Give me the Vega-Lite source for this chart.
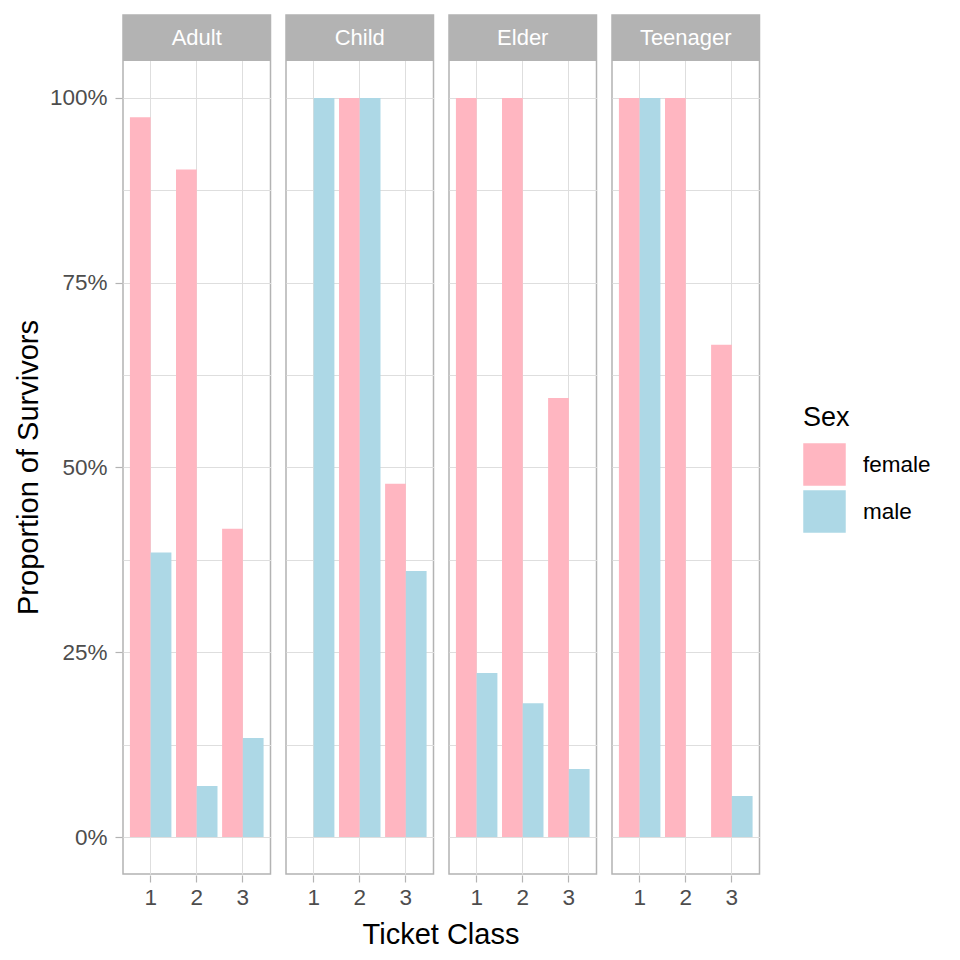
{
  "$schema": "https://vega.github.io/schema/vega-lite/v6.json",
  "padding": {"left": 14, "top": 14, "right": 5, "bottom": 5},
  "background": "white",
  "data": {
    "values": [
      {"Age": "Adult", "Class": "1", "Sex": "female", "Prop": 0.974},
      {"Age": "Adult", "Class": "1", "Sex": "male", "Prop": 0.385},
      {"Age": "Adult", "Class": "2", "Sex": "female", "Prop": 0.903},
      {"Age": "Adult", "Class": "2", "Sex": "male", "Prop": 0.069},
      {"Age": "Adult", "Class": "3", "Sex": "female", "Prop": 0.417},
      {"Age": "Adult", "Class": "3", "Sex": "male", "Prop": 0.134},
      {"Age": "Child", "Class": "1", "Sex": "female", "Prop": 0},
      {"Age": "Child", "Class": "1", "Sex": "male", "Prop": 1.0},
      {"Age": "Child", "Class": "2", "Sex": "female", "Prop": 1.0},
      {"Age": "Child", "Class": "2", "Sex": "male", "Prop": 1.0},
      {"Age": "Child", "Class": "3", "Sex": "female", "Prop": 0.478},
      {"Age": "Child", "Class": "3", "Sex": "male", "Prop": 0.360},
      {"Age": "Elder", "Class": "1", "Sex": "female", "Prop": 1.0},
      {"Age": "Elder", "Class": "1", "Sex": "male", "Prop": 0.222},
      {"Age": "Elder", "Class": "2", "Sex": "female", "Prop": 1.0},
      {"Age": "Elder", "Class": "2", "Sex": "male", "Prop": 0.181},
      {"Age": "Elder", "Class": "3", "Sex": "female", "Prop": 0.594},
      {"Age": "Elder", "Class": "3", "Sex": "male", "Prop": 0.092},
      {"Age": "Teenager", "Class": "1", "Sex": "female", "Prop": 1.0},
      {"Age": "Teenager", "Class": "1", "Sex": "male", "Prop": 1.0},
      {"Age": "Teenager", "Class": "2", "Sex": "female", "Prop": 1.0},
      {"Age": "Teenager", "Class": "2", "Sex": "male", "Prop": 0},
      {"Age": "Teenager", "Class": "3", "Sex": "female", "Prop": 0.666},
      {"Age": "Teenager", "Class": "3", "Sex": "male", "Prop": 0.0555}
    ]
  },
  "facet": {
    "column": {
      "field": "Age",
      "type": "nominal",
      "header": {
        "labels": false,
        "title": "Ticket Class",
        "titleOrient": "bottom",
        "titleFontSize": 29,
        "titleFont": "Liberation Sans",
        "titleFontWeight": "normal",
        "titleColor": "black",
        "titlePadding": 2
      }
    }
  },
  "spacing": 13,
  "spec": {
    "width": 147.5,
    "height": 859,
    "layer": [
      {
        "mark": {"type": "bar"},
        "encoding": {
          "x": {
            "field": "Class",
            "type": "ordinal",
            "scale": {"paddingInner": 0.1, "paddingOuter": 0.15},
            "axis": {
              "title": null,
              "labelAngle": 0,
              "labelFontSize": 22.5,
              "labelColor": "#4D4D4D",
              "labelPadding": 4,
              "tickSize": 7,
              "tickColor": "#B3B3B3",
              "tickWidth": 1.2,
              "domain": false,
              "grid": true,
              "gridColor": "#DEDEDE",
              "gridWidth": 1,
              "bandPosition": 0.5
            }
          },
          "xOffset": {"field": "Sex", "type": "nominal", "scale": {"paddingInner": 0, "paddingOuter": 0}},
          "y": {
            "field": "Prop",
            "type": "quantitative",
            "scale": {"domain": [-0.05, 1.1122], "nice": false, "zero": false},
            "axis": {
              "title": "Proportion of Survivors",
              "titleFontSize": 29,
              "titleFontWeight": "normal",
              "titleColor": "black",
              "titlePadding": 6,
              "titleY": 452,
              "values": [0, 0.125, 0.25, 0.375, 0.5, 0.625, 0.75, 0.875, 1],
              "labelExpr": "datum.value % 0.25 === 0 ? format(datum.value, '.0%') : ''",
              "labelFontSize": 22.5,
              "labelColor": "#4D4D4D",
              "labelPadding": 8,
              "tickSize": 7,
              "tickColor": "#B3B3B3",
              "tickWidth": 1.2,
              "tickOpacity": {"condition": {"test": "datum.value % 0.25 === 0", "value": 1}, "value": 0},
              "domain": false,
              "grid": true,
              "gridColor": "#DEDEDE",
              "gridWidth": 1
            }
          },
          "y2": {"datum": 0},
          "color": {
            "field": "Sex",
            "type": "nominal",
            "scale": {"domain": ["female", "male"], "range": ["#FFB6C1", "#ADD8E6"]},
            "legend": {
              "title": "Sex",
              "orient": "none",
              "legendX": 680,
              "legendY": 390,
              "titleFontSize": 27,
              "titleFontWeight": "normal",
              "titleColor": "black",
              "titlePadding": 11,
              "labelFontSize": 22.5,
              "labelColor": "black",
              "labelOffset": 17,
              "symbolType": "square",
              "symbolSize": 1806,
              "symbolStrokeWidth": 0,
              "symbolOpacity": 1,
              "rowPadding": 4
            }
          }
        }
      },
      {
        "transform": [{"aggregate": [{"op": "count", "as": "n"}], "groupby": ["Age"]}],
        "mark": {"type": "rect", "color": "#B3B3B3"},
        "encoding": {
          "y": {"datum": 1.05, "type": "quantitative"},
          "y2": {"datum": 1.1122}
        }
      },
      {
        "transform": [{"aggregate": [{"op": "count", "as": "n"}], "groupby": ["Age"]}],
        "mark": {"type": "text", "color": "white", "fontSize": 22, "baseline": "middle", "align": "center"},
        "encoding": {
          "y": {"datum": 1.0811, "type": "quantitative"},
          "text": {"field": "Age", "type": "nominal"}
        }
      }
    ]
  },
  "config": {
    "font": "Liberation Sans",
    "view": {"stroke": "#B3B3B3", "strokeWidth": 1.5}
  }
}
